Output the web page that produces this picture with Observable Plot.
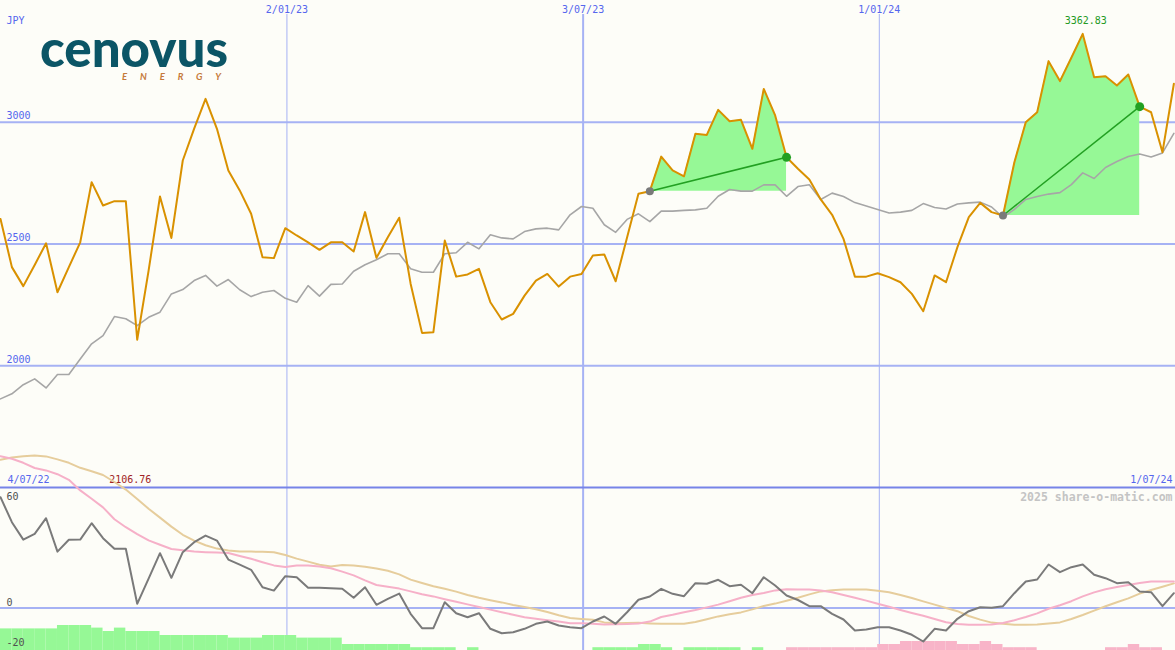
<!DOCTYPE html>
<html><head><meta charset="utf-8">
<script src="https://cdn.jsdelivr.net/npm/d3@7"></script>
<script src="https://cdn.jsdelivr.net/npm/@observablehq/plot@0.6"></script>
<style>
html,body{margin:0;padding:0;background:#fdfdf8;}
#chart{position:relative;width:1175px;height:650px;overflow:hidden;}
#chart svg{position:absolute;left:0;top:0;}
</style></head><body><div id="chart"></div>
<script>
// ---- data (weekly) ----
const startDate = "2022-07-10";
const endDate = "2024-07-01";
const price = [
2603,2405,2327,2414,2503,2302,2405,2507,2754,2658,
2676,2676,2106.76,2391,2695,2525,2843,2974,3096,2973,
2802,2720,2624,2446,2442,2565,2535,2507,2476,2507,
2507,2469,2631,2443,2528,2608,2337,2135,2138,2514,
2366,2375,2398,2261,2190,2213,2288,2350,2377,2325,
2366,2377,2453,2457,2347,2527,2706,2717,2859,2802,
2778,2953,2948,3051,3004,3010,2891,3137,3028,2856,
2809,2765,2683,2620,2521,2366,2366,2380,2364,2343,
2295,2224,2371,2343,2487,2610,2669,2631,2617,2836,
3000,3041,3251,3169,3265,3362.83,3185,3189,3151,3196,
3064,3041,2877,3158];
const bench = [
1864,1885,1922,1946,1909,1964,1964,2028,2090,2124,
2202,2193,2165,2199,2220,2295,2313,2350,2371,2327,
2354,2312,2284,2302,2309,2277,2261,2329,2286,2334,
2336,2388,2415,2435,2460,2460,2398,2384,2384,2460,
2464,2507,2480,2538,2525,2521,2551,2562,2565,2558,
2620,2654,2647,2579,2548,2601,2624,2592,2635,2635,
2638,2640,2647,2696,2724,2717,2717,2743,2743,2696,
2736,2743,2683,2709,2695,2670,2656,2642,2627,2631,
2638,2666,2650,2644,2664,2669,2672,2652,2609,2642,
2683,2695,2705,2711,2744,2792,2769,2814,2839,2859,
2870,2857,2874,2954];
const momentum = [
55.4,42.9,34.2,37.1,44.9,28.2,34.1,34.2,42.4,34.9,
29.6,29.6,2.1,14.7,27.4,15.1,27.9,32.9,36.2,33.7,
24.2,21.7,19.1,10.4,8.7,15.9,15.4,10.1,10.1,9.9,
9.6,5.1,10.4,1.6,4.6,7.2,-2.9,-10.1,-10.1,2.9,
-2.6,-4.6,-2.6,-10.4,-12.6,-12.1,-10.4,-7.9,-6.75,-8.75,
-9.6,-10.1,-6.75,-4.25,-7.9,-2.1,4.1,5.75,9.6,7.1,
5.9,12.4,12.1,14.1,10.9,11.6,7.4,15.4,11.25,6.25,
4,0.9,0.9,-2.9,-5.75,-11.25,-10.75,-9.6,-9.6,-11.25,
-13.4,-16.75,-10.4,-11.25,-5.4,-1.6,0.4,0.1,0.9,7.4,
13.25,14.25,21.75,17.9,20.4,21.75,16.6,14.9,12.4,12.9,
8.25,7.9,0.9,7.4];
const pinkAvg = [
75.9,74.6,72.6,70.0,68.8,66.9,64.1,58.8,54.6,50.3,
44.4,40.4,36.9,33.8,31.6,29.5,28.9,28.2,27.9,27.7,
27.5,26.0,24.6,22.9,21.3,20.5,21.2,21.3,20.8,19.9,
18.2,16.3,13.8,11.5,10.6,9.7,8.3,6.9,5.8,4.4,
3.1,1.8,0.5,-0.8,-2.1,-3.4,-4.6,-5.4,-6.1,-6.8,
-7.6,-7.6,-7.9,-8.25,-8.1,-8.0,-7.7,-6.8,-4.5,-3.4,
-2.1,-1.0,0.3,1.7,3.4,5.1,6.5,7.5,8.8,9.4,
9.3,9.25,8.8,7.9,6.5,5.1,3.7,2.1,0.6,-1.0,
-2.5,-3.9,-5.5,-7.1,-8.0,-8.4,-8.4,-8.3,-7.5,-6.1,
-4.5,-2.7,-0.4,1.4,3.4,5.8,7.8,9.4,10.5,11.5,
12.5,13.25,13.25,13.25];
const tanAvg = [
74.1,75.2,75.9,76.2,75.8,74.3,72.6,70.1,68.4,66.5,
63.0,59.2,54.5,49.6,45.2,40.7,36.6,33.7,31.4,29.7,
28.8,28.3,28.2,28.1,27.9,26.5,24.7,23.2,21.6,20.7,
21.5,21.2,20.6,19.7,18.6,16.8,14.2,12.5,10.9,9.6,
8.2,6.5,5.1,3.9,2.8,1.5,0.5,-0.6,-2.0,-3.6,
-5.0,-5.5,-5.9,-7.2,-7.6,-7.5,-7.4,-7.7,-7.9,-7.9,
-7.9,-7.0,-5.6,-4.2,-3.1,-2.2,-0.7,1.0,2.2,3.6,
5.1,6.8,8.3,8.9,9.2,9.25,9.25,8.6,7.9,6.5,
5.0,3.3,1.7,0.0,-1.6,-4.0,-5.8,-7.3,-7.9,-8.4,
-8.4,-8.3,-7.8,-7.2,-5.5,-3.5,-1.3,0.9,2.9,4.8,
7.2,9.0,10.6,12.3];
const histogram = [
10.8,10.8,10.8,10.8,10.8,12.5,12.5,12.5,11.2,9.5,
11.2,9.5,9.5,9.5,7.5,7.5,7.5,7.5,7.5,7.5,
6.2,6.2,6.2,7.5,7.5,7.5,6.2,6.2,6.2,6.2,
3,3,3,3,3,3,1.4,1.4,1.4,1.4,
0,1.4,0,0,0,0,0,0,0,0,
0,0,1.4,1.4,1.4,1.4,3,3,1.4,0,
1.4,1.4,1.4,1.4,1.4,0,1.4,0,0,-1.4,
-1.4,-1.4,-1.4,-1.4,-1.4,-1.4,-1.4,-3,-3,-4.5,
-4.5,-4.5,-4.5,-4.5,-3,-3,-4.5,-3,-1.4,-1.4,
-1.4,0,0,0,0,0,0,-1.4,-1.4,-3,
-1.4,-1.4,0,0];
const signalWeeks = [[57,69],[88,100]];   // entry / exit week indices
const priceTicks = [3000,2500,2000];
const lowerTicks = [0,-20];
const lowerTopTick = [60];
const gridDates = ["2023-01-02","2023-07-03","2024-01-01"];
const gridLabels = ["2/01/23","3/07/23","1/01/24"];
const gridMajor = [false,true,false];
const cornerLabels = ["4/07/22","1/07/24"];
const unitLabel = "JPY";
const watermark = "2025 share-o-matic.com";

// ---- tables ----
const t0 = new Date(startDate + "T00:00:00Z");
const t1 = new Date(endDate + "T00:00:00Z");
const dates = price.map((_, i) => d3.utcDay.offset(t0, 7 * i));
const rows = dates.map((d, i) => ({
  date: d, next: d3.utcDay.offset(d, 7), price: price[i], bench: bench[i],
  mom: momentum[i], pink: pinkAvg[i], tan: tanAvg[i], hist: histogram[i]
}));
const grid = gridDates.map((d, i) => ({date: new Date(d + "T00:00:00Z"), label: gridLabels[i], major: gridMajor[i]}));
const signals = signalWeeks.map(([a, b], k) => ({k, a: rows[a], b: rows[b]}));
const fills = signals.flatMap(s => rows.slice(rows.indexOf(s.a), rows.indexOf(s.b) + 1)
  .map(r => ({date: r.date, price: r.price, base: s.a.price, k: s.k})));
const maxRow = rows.reduce((m, r) => r.price > m.price ? r : m);
const minRow = rows.reduce((m, r) => r.price < m.price ? r : m);

const xScale = {type: "utc", domain: [t0, t1], range: [0, 1175], axis: null};
const font = "DejaVu Sans Mono";
const blue = "#5566ee";
const gridColor = "#a6b2f4";
const txt = {fontFamily: font, fontSize: 10, lineAnchor: "middle"};

const pricePlot = Plot.plot({
  width: 1175, height: 650, margin: 0,
  x: xScale,
  y: {domain: [1500, 3500], range: [487, 0], axis: null},
  style: {background: "#fdfdf8", fontFamily: font, fontSize: "10px", overflow: "visible"},
  marks: [
    Plot.ruleY(priceTicks, {stroke: gridColor, strokeWidth: 2}),
    Plot.ruleX(grid.filter(d => !d.major), {x: "date", stroke: gridColor, strokeWidth: 1, insetTop: 14}),
    Plot.ruleX(grid.filter(d => d.major), {x: "date", stroke: gridColor, strokeWidth: 2, insetTop: 14}),
    Plot.ruleY([1500], {stroke: "#7784e8", strokeWidth: 2}),
    Plot.areaY(fills, {x: "date", y1: "base", y2: "price", z: "k", fill: "#96f896"}),
    Plot.line(rows, {x: "date", y: "bench", stroke: "#a6a6a6", strokeWidth: 1.6}),
    Plot.link(signals, {x1: d => d.a.date, y1: d => d.a.price, x2: d => d.b.date, y2: d => d.b.price, stroke: "#22a022", strokeWidth: 1.5}),
    Plot.line(rows, {x: "date", y: "price", stroke: "#d99100", strokeWidth: 2}),
    Plot.dot(signals, {x: d => d.a.date, y: d => d.a.price, r: 4, fill: "#7a7a7a"}),
    Plot.dot(signals, {x: d => d.b.date, y: d => d.b.price, r: 4.5, fill: "#22a022"}),
    Plot.text(priceTicks, {...txt, y: d => d, text: d => String(d), frameAnchor: "left", textAnchor: "start", dx: 6, dy: -6, fill: blue}),
    Plot.text(grid, {...txt, x: "date", text: "label", frameAnchor: "top", dy: 9, fill: blue}),
    Plot.text([unitLabel], {...txt, frameAnchor: "top-left", textAnchor: "start", dx: 6, dy: 20, fill: blue}),
    Plot.text([maxRow], {...txt, x: "date", y: "price", text: d => d.price.toFixed(2), dx: 3, dy: -13, fill: "#249a24"}),
    Plot.text([minRow], {...txt, x: "date", y: () => 1500, text: d => d.price.toFixed(2), dx: -7, dy: -8, fill: "#a02424"}),
    Plot.text([cornerLabels[0]], {...txt, frameAnchor: "left", y: () => 1500, textAnchor: "start", dx: 7, dy: -8, fill: blue}),
    Plot.text([cornerLabels[1]], {...txt, frameAnchor: "right", y: () => 1500, textAnchor: "end", dx: -3, dy: -8, fill: blue})
  ]
});

const bottomY = -21.25;
const lowerPlot = Plot.plot({
  width: 1175, height: 650, margin: 0,
  x: xScale,
  y: {domain: [-20, 60], range: [647.5, 487.5], axis: null},
  style: {background: "transparent", fontFamily: font, fontSize: "10px", overflow: "visible", pointerEvents: "none"},
  marks: [
    Plot.ruleY([0], {stroke: gridColor, strokeWidth: 2}),
    Plot.rect(rows.filter(r => r.hist !== 0), {x1: "date", x2: "next", y1: () => bottomY, y2: r => bottomY + Math.abs(r.hist),
      fill: r => r.hist > 0 ? "#96f896" : "#f8b4c8"}),
    Plot.line(rows, {x: "date", y: "tan", stroke: "#e6cd9c", strokeWidth: 2}),
    Plot.line(rows, {x: "date", y: "pink", stroke: "#f6b0c8", strokeWidth: 2}),
    Plot.line(rows, {x: "date", y: "mom", stroke: "#7a7a7a", strokeWidth: 2}),
    Plot.text(lowerTicks, {...txt, y: d => d, text: d => String(d), frameAnchor: "left", textAnchor: "start", dx: 6, dy: -5, fill: "#505050"}),
    Plot.text(lowerTopTick, {...txt, y: d => d, text: d => String(d), frameAnchor: "left", textAnchor: "start", dx: 6, dy: 9, fill: "#505050"}),
    Plot.text([watermark], {...txt, frameAnchor: "right", y: () => 60, textAnchor: "end", dx: -3, dy: 9, fill: "#c4c4c4", fontWeight: "bold", fontSize: 11.5})
  ]
});

const chart = document.getElementById("chart");
chart.appendChild(pricePlot);
chart.appendChild(lowerPlot);

// logo
const logo = d3.create("svg").attr("width", 1175).attr("height", 650).style("pointer-events", "none");
logo.append("text").attr("x", 40).attr("y", 67).attr("textLength", 188).attr("lengthAdjust", "spacingAndGlyphs")
  .attr("font-family", "Lato").attr("font-weight", 900).attr("font-size", 52).attr("fill", "#0b5566").text("cenovus");
logo.append("text").attr("x", 122).attr("y", 80).attr("textLength", 99).attr("lengthAdjust", "spacing")
  .attr("font-family", "Lato").attr("font-weight", 700).attr("font-style", "italic").attr("font-size", 9.5).attr("fill", "#c57a3a").text("ENERGY");
chart.appendChild(logo.node());
</script></body></html>
